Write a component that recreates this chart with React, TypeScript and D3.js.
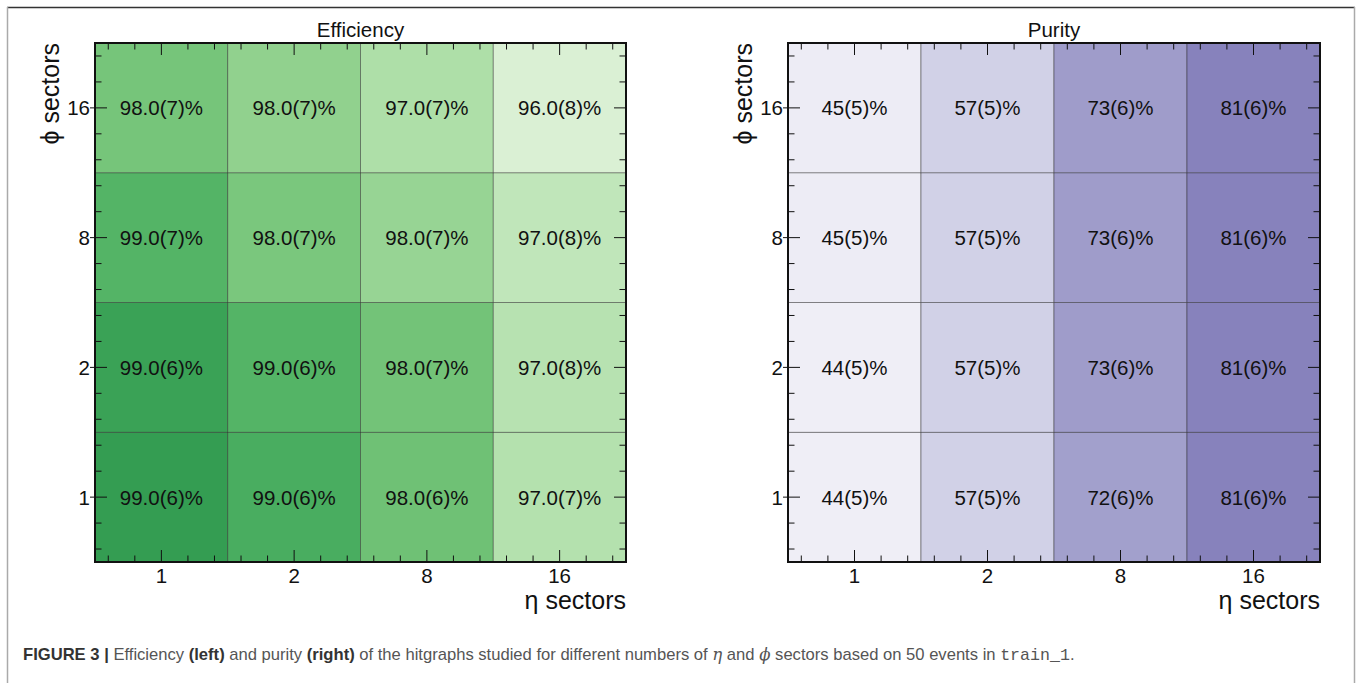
import React from "react";
import * as d3 from "d3";

const etaSectors = ["1", "2", "8", "16"];
const phiSectors = ["1", "2", "8", "16"]; // bottom to top

// rows follow phiSectors order (phi = 1, 2, 8, 16); columns follow etaSectors
const efficiencyValues = [
  [99.42, 98.95, 98.28, 96.94],
  [99.28, 98.75, 98.21, 96.87],
  [98.75, 98.08, 97.54, 96.67],
  [98.15, 97.67, 97.07, 96.0],
];
const efficiencyErrors = [
  [6, 6, 6, 7],
  [6, 6, 7, 8],
  [7, 7, 7, 8],
  [7, 7, 7, 8],
];
const purityValues = [
  [44, 57, 72, 81],
  [44, 57, 73, 81],
  [45, 57, 73, 81],
  [45, 57, 73, 81],
];
const purityErrors = [
  [5, 5, 6, 6],
  [5, 5, 6, 6],
  [5, 5, 6, 6],
  [5, 5, 6, 6],
];

const W = 1361;
const H = 683;
const FONT = "'Liberation Sans', Arial, Helvetica, sans-serif";

type PanelProps = {
  title: string;
  x0: number;
  x1: number;
  y0: number;
  y1: number;
  values: number[][];
  errors: number[][];
  color: (v: number) => string;
  label: (v: number, e: number) => string;
};

function Panel({ title, x0, x1, y0, y1, values, errors, color, label }: PanelProps) {
  const x = d3.scaleBand<string>().domain(etaSectors).range([x0, x1]).padding(0);
  const y = d3.scaleBand<string>().domain(phiSectors).range([y1, y0]).padding(0);
  const bw = x.bandwidth();
  const bh = y.bandwidth();
  const offs = [-0.4, -0.2, 0, 0.2, 0.4];

  const cells: React.ReactNode[] = [];
  phiSectors.forEach((p, i) => {
    etaSectors.forEach((e, j) => {
      const v = values[i][j];
      cells.push(
        <rect
          key={`c-${p}-${e}`}
          x={x(e)!}
          y={y(p)!}
          width={bw}
          height={bh}
          fill={color(v)}
          stroke="rgba(40,40,40,0.55)"
          strokeWidth={0.8}
        />
      );
    });
  });
  const texts: React.ReactNode[] = [];
  phiSectors.forEach((p, i) => {
    etaSectors.forEach((e, j) => {
      texts.push(
        <text
          key={`t-${p}-${e}`}
          x={x(e)! + bw / 2}
          y={y(p)! + bh / 2}
          dy="0.36em"
          textAnchor="middle"
          fontSize={20.5}
          fill="#111"
        >
          {label(values[i][j], errors[i][j])}
        </text>
      );
    });
  });

  const ticks: React.ReactNode[] = [];
  etaSectors.forEach((e) => {
    const c = x(e)! + bw / 2;
    offs.forEach((o, k) => {
      const tx = c + o * bw;
      const len = o === 0 ? 12 : 6.5;
      ticks.push(<line key={`bx-${e}-${k}`} x1={tx} x2={tx} y1={y1} y2={y1 - len} stroke="#111" strokeWidth={1} />);
      ticks.push(<line key={`tx-${e}-${k}`} x1={tx} x2={tx} y1={y0} y2={y0 + len} stroke="#111" strokeWidth={1} />);
    });
  });
  phiSectors.forEach((p) => {
    const c = y(p)! + bh / 2;
    offs.forEach((o, k) => {
      const ty = c + o * bh;
      const len = o === 0 ? 12 : 6.5;
      ticks.push(
        <line key={`ly-${p}-${k}`} x1={o === 0 ? x0 - 5 : x0} x2={x0 + len} y1={ty} y2={ty} stroke="#111" strokeWidth={1} />
      );
      ticks.push(<line key={`ry-${p}-${k}`} x1={x1} x2={x1 - len} y1={ty} y2={ty} stroke="#111" strokeWidth={1} />);
    });
  });

  return (
    <g fontFamily={FONT}>
      {cells}
      {texts}
      {ticks}
      <rect x={x0} y={y0} width={x1 - x0} height={y1 - y0} fill="none" stroke="#111" strokeWidth={2} />
      {etaSectors.map((e) => (
        <text key={`xl-${e}`} x={x(e)! + bw / 2} y={583} textAnchor="middle" fontSize={20.5} fill="#111">
          {e}
        </text>
      ))}
      {phiSectors.map((p) => (
        <text key={`yl-${p}`} x={x0 - 5} y={y(p)! + bh / 2} dy="0.36em" textAnchor="end" fontSize={20.5} fill="#111">
          {p}
        </text>
      ))}
      <text x={x1} y={609} textAnchor="end" fontSize={25} fill="#111">
        η sectors
      </text>
      <text transform={`translate(${x0 - 36},${y0}) rotate(-90)`} textAnchor="end" fontSize={25} fill="#111">
        ϕ sectors
      </text>
      <text x={(x0 + x1) / 2} y={37} textAnchor="middle" fontSize={20.5} fill="#111">
        {title}
      </text>
    </g>
  );
}

export default function App() {
  const effColor = d3.scaleSequential(d3.interpolateGreens).domain([94.86, 101.56]);
  const purColor = d3.scaleSequential(d3.interpolatePurples).domain([35.4, 111.4]);
  return (
    <svg
      width={W}
      height={H}
      viewBox={`0 0 ${W} ${H}`}
      style={{ position: "absolute", left: 0, top: 0, display: "block", background: "#fff" }}
    >
      <rect x={0} y={0} width={W} height={H} fill="#fff" />
      <line x1={7} x2={1355} y1={7.5} y2={7.5} stroke="#333" strokeWidth={1.6} />
      <line x1={7.5} x2={7.5} y1={7} y2={H} stroke="#aaa" strokeWidth={1.5} />
      <line x1={1354.5} x2={1354.5} y1={7} y2={H} stroke="#aaa" strokeWidth={1.5} />
      <Panel
        title="Efficiency"
        x0={95}
        x1={626}
        y0={43}
        y1={562}
        values={efficiencyValues}
        errors={efficiencyErrors}
        color={(v) => effColor(v)}
        label={(v, e) => `${Math.round(v).toFixed(1)}(${e})%`}
      />
      <Panel
        title="Purity"
        x0={788}
        x1={1320}
        y0={43}
        y1={562}
        values={purityValues}
        errors={purityErrors}
        color={(v) => purColor(v)}
        label={(v, e) => `${v}(${e})%`}
      />
      <text x={23} y={660} fontFamily={FONT} fontSize={16.6} fill="#555">
        <tspan fontWeight="bold" fill="#333">FIGURE 3 | </tspan>
        <tspan>Efficiency </tspan>
        <tspan fontWeight="bold" fill="#333">(left)</tspan>
        <tspan> and purity </tspan>
        <tspan fontWeight="bold" fill="#333">(right)</tspan>
        <tspan> of the hitgraphs studied for different numbers of </tspan>
        <tspan fontFamily="'DejaVu Serif', serif" fontStyle="italic">η</tspan>
        <tspan> and </tspan>
        <tspan fontFamily="'DejaVu Serif', serif" fontStyle="italic">ϕ</tspan>
        <tspan> sectors based on 50 events in </tspan>
        <tspan fontFamily="'Liberation Mono', 'DejaVu Sans Mono', monospace">train_1</tspan>
        <tspan>.</tspan>
      </text>
    </svg>
  );
}
